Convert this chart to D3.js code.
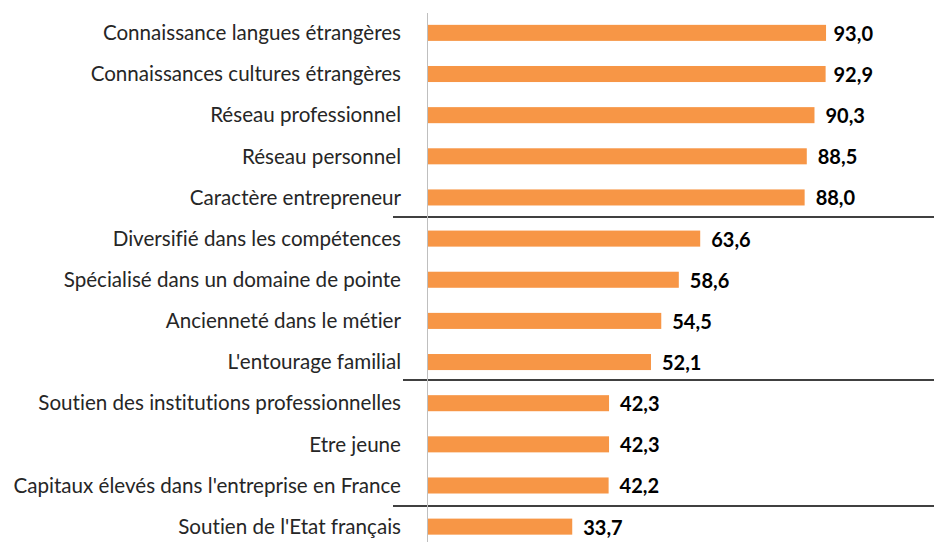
<!DOCTYPE html>
<html>
<head>
<meta charset="utf-8">
<script src="https://cdn.jsdelivr.net/npm/d3@7"></script>
<style>
  body { margin: 0; background: #fff; }
  svg { display: block; }
  text { font-variant-ligatures: none; }
</style>
</head>
<body>
<div id="chart"></div>
<script>
var categories = [
    "Connaissance langues étrangères",
    "Connaissances cultures étrangères",
    "Réseau professionnel",
    "Réseau personnel",
    "Caractère entrepreneur",
    "Diversifié dans les compétences",
    "Spécialisé dans un domaine de pointe",
    "Ancienneté dans le métier",
    "L'entourage familial",
    "Soutien des institutions professionnelles",
    "Etre jeune",
    "Capitaux élevés dans l'entreprise en France",
    "Soutien de l'Etat français"
];
var values = [93.0, 92.9, 90.3, 88.5, 88.0, 63.6, 58.6, 54.5, 52.1, 42.3, 42.3, 42.2, 33.7];
// group breaks drawn after these category indexes
var groupEnds = [4, 8, 11];

function init() {
    var w = 934;
    var h = 542;

    var svg = d3.select("#chart")
                .append("svg")
                .attr("width", w)
                .attr("height", h);

    var xScale = d3.scaleLinear()
                .domain([0, 100])
                .range([428, 856]);

    var yScale = d3.scaleBand()
                .domain(d3.range(categories.length))
                .range([12.5, 547])
                .paddingInner(0.61)
                .paddingOuter(0.3);

    // separators between groups (hand drawn in the original, slightly uneven)
    var sepStart = [393, 403, 393];
    var sepShift = [-1, -3, 0];
    function sepY(d, i) {
        return Math.round((yScale(d) + yScale.bandwidth() + yScale(d + 1)) / 2) + sepShift[i];
    }
    svg.selectAll("line.sep")
        .data(groupEnds)
        .enter()
        .append("line")
        .attr("class", "sep")
        .attr("x1", function(d, i) { return sepStart[i]; })
        .attr("x2", w)
        .attr("y1", sepY)
        .attr("y2", sepY)
        .attr("stroke", "#000")
        .attr("stroke-width", 1.5);

    svg.selectAll("rect")
        .data(values)
        .enter()
        .append("rect")
        .attr("x", xScale(0))
        .attr("y", function(d, i) { return yScale(i); })
        .attr("width", function(d) { return xScale(d) - xScale(0); })
        .attr("height", yScale.bandwidth())
        .attr("fill", "#F79646");

    // vertical axis
    svg.append("line")
        .attr("x1", xScale(0) - 0.5)
        .attr("x2", xScale(0) - 0.5)
        .attr("y1", 13)
        .attr("y2", h)
        .attr("stroke", "#bfbfbf")
        .attr("stroke-width", 1);

    svg.selectAll("text.cat")
        .data(categories)
        .enter()
        .append("text")
        .attr("class", "cat")
        .attr("x", 401)
        .attr("y", function(d, i) { return yScale(i) + yScale.bandwidth() / 2; })
        .attr("dy", "0.35em")
        .attr("text-anchor", "end")
        .style("font-family", "Lato, 'Open Sans', sans-serif")
        .style("font-size", "20.6px")
        .attr("fill", "#262626")
        .text(function(d) { return d; });

    // value labels: pushed back left when they would run past the plot edge
    var labelEdge = 873;
    svg.selectAll("text.val")
        .data(values)
        .enter()
        .append("text")
        .attr("class", "val")
        .attr("y", function(d, i) { return yScale(i) + yScale.bandwidth() / 2 + 1; })
        .attr("dy", "0.35em")
        .style("font-family", "Lato, 'Open Sans', sans-serif")
        .style("font-size", "20px")
        .style("font-weight", "bold")
        .attr("fill", "#000")
        .text(function(d) { return d.toFixed(1).replace(".", ","); })
        .attr("x", function(d) {
            var tw = this.getComputedTextLength();
            return Math.min(xScale(d) + 11, labelEdge - tw);
        });
}

window.onload = init;
</script>
</body>
</html>
